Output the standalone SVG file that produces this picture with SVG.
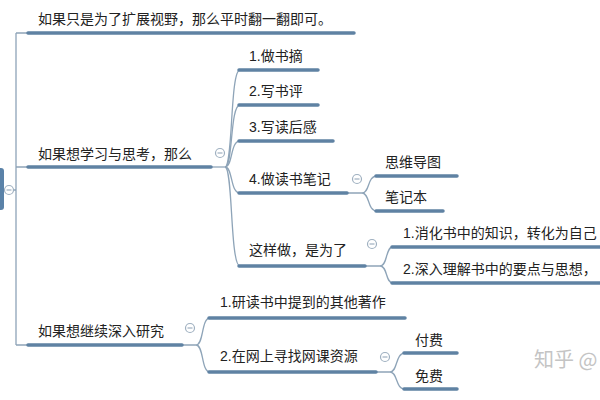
<svg xmlns="http://www.w3.org/2000/svg" width="600" height="400" viewBox="0 0 600 400">
<style>
.t{font-family:"Liberation Sans","Noto Sans CJK SC",sans-serif;font-size:14px;fill:#222}
.u{stroke:#5f82a3;stroke-width:3.5;stroke-linecap:round;fill:none}
.c{stroke:#8ea4b8;stroke-width:1.3;fill:none}
.k{fill:#fff;stroke:#9fb0c0;stroke-width:1.2}
.m{stroke:#9fb0c0;stroke-width:1.2}
</style>
<rect width="600" height="400" fill="#fff"/>
<g id="connectors">
<path class="c" d="M13,190 H16 M16,33 V345 M16,33 H30 M16,167 H30 M16,345 H30"/>
<path class="c" d="M211,167 H225"/>
<path class="c" d="M225,167 C233,167 230,70 240,70"/>
<path class="c" d="M225,167 C233,167 230,105 240,105"/>
<path class="c" d="M225,167 C233,167 230,141 240,141"/>
<path class="c" d="M225,167 C233,167 230,193 240,193"/>
<path class="c" d="M225,167 C233,167 230,266 240,266"/>
<path class="c" d="M347,193 H362 C370,193 367,176 377,176 M362,193 C370,193 367,211 377,211"/>
<path class="c" d="M365,266 H380 C388,266 385,247 393,247 M380,266 C388,266 385,283 393,283"/>
<path class="c" d="M182,345 H196 C204,345 201,318 210,318 M196,345 C204,345 201,372 210,372"/>
<path class="c" d="M376,372 H390 C398,372 395,353 405,353 M390,372 C398,372 395,389 405,389"/>
</g>
<g id="root">
<rect x="-10" y="168" width="14" height="42" rx="3" fill="#5a82a8"/>
<circle class="k" cx="9" cy="190" r="4.5"/><line class="m" x1="6.5" y1="190" x2="11.5" y2="190"/>
</g>
<g id="n1"><text class="t" x="38" y="24">如果只是为了扩展视野，那么平时翻一翻即可。</text><line class="u" x1="28" y1="33" x2="354" y2="33"/></g>
<g id="n2"><text class="t" x="38" y="159">如果想学习与思考，那么</text><line class="u" x1="28" y1="167" x2="211" y2="167"/>
<circle class="k" cx="220" cy="153" r="4.5"/><line class="m" x1="217.5" y1="153" x2="222.5" y2="153"/></g>
<g id="n2a"><text class="t" x="249" y="61">1.做书摘</text><line class="u" x1="239" y1="70" x2="318" y2="70"/></g>
<g id="n2b"><text class="t" x="249" y="96">2.写书评</text><line class="u" x1="239" y1="105" x2="318" y2="105"/></g>
<g id="n2c"><text class="t" x="249" y="132">3.写读后感</text><line class="u" x1="239" y1="141" x2="333" y2="141"/></g>
<g id="n2d"><text class="t" x="249" y="184">4.做读书笔记</text><line class="u" x1="239" y1="193" x2="347" y2="193"/>
<circle class="k" cx="357" cy="179" r="4.5"/><line class="m" x1="354.5" y1="179" x2="359.5" y2="179"/></g>
<g id="n2d1"><text class="t" x="385" y="167">思维导图</text><line class="u" x1="376" y1="176" x2="457" y2="176"/></g>
<g id="n2d2"><text class="t" x="385" y="202">笔记本</text><line class="u" x1="376" y1="211" x2="443" y2="211"/></g>
<g id="n2e"><text class="t" x="249" y="255">这样做，是为了</text><line class="u" x1="239" y1="266" x2="365" y2="266"/>
<circle class="k" cx="372" cy="244" r="4.5"/><line class="m" x1="369.5" y1="244" x2="374.5" y2="244"/></g>
<g id="n2e1"><text class="t" x="403" y="238">1.消化书中的知识，转化为自己</text><line class="u" x1="392" y1="247" x2="602" y2="247"/></g>
<g id="n2e2"><text class="t" x="403" y="274">2.深入理解书中的要点与思想，</text><line class="u" x1="392" y1="283" x2="602" y2="283"/></g>
<g id="n3"><text class="t" x="38" y="336">如果想继续深入研究</text><line class="u" x1="28" y1="345" x2="182" y2="345"/>
<circle class="k" cx="190" cy="328" r="4.5"/><line class="m" x1="187.5" y1="328" x2="192.5" y2="328"/></g>
<g id="n3a"><text class="t" x="220" y="307">1.研读书中提到的其他著作</text><line class="u" x1="209" y1="318" x2="405" y2="318"/></g>
<g id="n3b"><text class="t" x="220" y="361">2.在网上寻找网课资源</text><line class="u" x1="209" y1="372" x2="376" y2="372"/>
<circle class="k" cx="385" cy="357" r="4.5"/><line class="m" x1="382.5" y1="357" x2="387.5" y2="357"/></g>
<g id="n3b1"><text class="t" x="415" y="345">付费</text><line class="u" x1="404" y1="353" x2="457" y2="353"/></g>
<g id="n3b2"><text class="t" x="415" y="381">免费</text><line class="u" x1="404" y1="389" x2="457" y2="389"/></g>
<text x="534" y="367" style="font-family:'Noto Sans CJK SC',sans-serif;font-size:20px;fill:#c4c4c4">知乎 @</text>
</svg>
